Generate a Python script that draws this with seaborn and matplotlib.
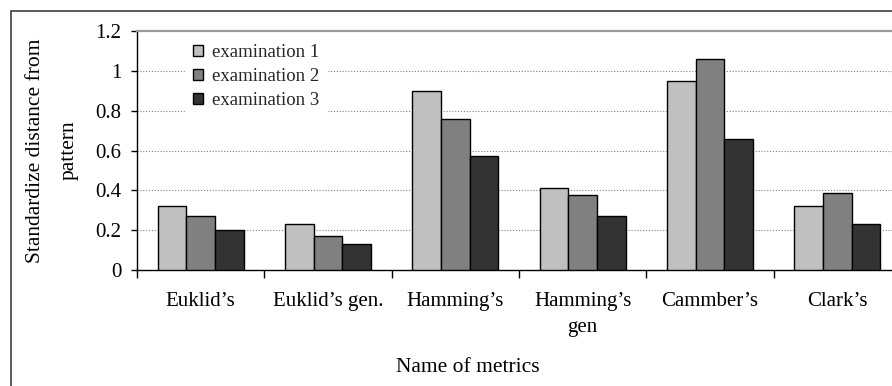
import matplotlib
matplotlib.use("Agg")
import matplotlib.pyplot as plt
from matplotlib.patches import Rectangle
from matplotlib.ticker import FixedLocator, NullFormatter
import seaborn as sns
import pandas as pd

# ---- data ----
metrics = ["Euklid\u2019s", "Euklid\u2019s gen.", "Hamming\u2019s", "Hamming\u2019s\ngen", "Cammber\u2019s", "Clark\u2019s"]
series_names = ["examination 1", "examination 2", "examination 3"]
exam1 = [0.32, 0.23, 0.90, 0.41, 0.95, 0.32]
exam2 = [0.27, 0.17, 0.76, 0.375, 1.06, 0.385]
exam3 = [0.20, 0.13, 0.57, 0.27, 0.66, 0.23]
y_ticks = [0, 0.2, 0.4, 0.6, 0.8, 1.0, 1.2]
y_tick_labels = ["0", "0.2", "0.4", "0.6", "0.8", "1", "1.2"]
colors = ["#c0c0c0", "#808080", "#333333"]

rows = []
for name, vals in zip(series_names, [exam1, exam2, exam3]):
    for m, v in zip(metrics, vals):
        rows.append({"metric": m, "value": v, "exam": name})
df = pd.DataFrame(rows)

sns.set_theme(style="white")
plt.rcParams["font.family"] = ["Liberation Serif", "DejaVu Serif"]

fig = plt.figure(figsize=(8.92, 3.86), dpi=100)
W, H = 892, 386
ax_left, ax_right, ax_top, ax_bottom = 137, 901, 31, 270
ax = fig.add_axes([ax_left / W, (H - ax_bottom) / H,
                   (ax_right - ax_left) / W, (ax_bottom - ax_top) / H])

sns.barplot(data=df, x="metric", y="value", hue="exam", order=metrics,
            hue_order=series_names, palette=colors, saturation=1,
            width=0.675, gap=0, edgecolor="black", linewidth=1.0,
            errorbar=None, ax=ax, zorder=3)

ax.set_xlim(-0.5, len(metrics) - 0.5)
ax.set_ylim(0, 1.2)
ax.set_yticks(y_ticks)
ax.set_yticklabels(y_tick_labels)

# grid
for yv in y_ticks[1:-1]:
    ax.axhline(yv, color="#808080", lw=0.8, ls=(0, (1, 1.6)), zorder=1)

# spines
for s in ["left", "bottom"]:
    ax.spines[s].set_color("black")
    ax.spines[s].set_linewidth(1.0)
ax.spines["top"].set_color("#9a9a9a")
ax.spines["top"].set_linewidth(1.6)
ax.spines["right"].set_visible(False)

# ticks
ax.tick_params(axis="y", which="major", direction="out", length=4.3, width=1.0,
               color="black", left=True, labelsize=15, pad=7, labelcolor="black")
ax.tick_params(axis="x", which="major", length=0, labelsize=15, pad=15.5, labelcolor="black")
ax.xaxis.set_minor_locator(FixedLocator([i + 0.5 for i in range(-1, len(metrics))]))
ax.xaxis.set_minor_formatter(NullFormatter())
ax.tick_params(axis="x", which="minor", direction="out", length=5.8, width=1.0,
               color="black", bottom=True)
for lbl in ax.get_xticklabels():
    lbl.set_linespacing(1.55)

# labels
ax.set_xlabel("Name of metrics", fontsize=15.5, color="black")
ax.xaxis.set_label_coords((468 - ax_left) / (ax_right - ax_left), -0.37)
ax.set_ylabel("Standardize distance from\npattern", fontsize=15.5, color="black",
              linespacing=2.05)
ax.yaxis.label.set_va("center")
ax.yaxis.set_label_coords((52.5 - ax_left) / (ax_right - ax_left), 0.5)

# legend
handles, labels = ax.get_legend_handles_labels()
if ax.get_legend() is not None:
    ax.get_legend().remove()
leg = ax.legend(handles, labels, loc="upper left",
                bbox_to_anchor=(0.063, 0.975), borderaxespad=0,
                fontsize=13.5, frameon=True, facecolor="white", edgecolor="white",
                framealpha=1, fancybox=False, borderpad=0.4,
                handlelength=0.55, handleheight=0.55, handletextpad=0.5,
                labelspacing=0.36)
leg.set_zorder(5)

# outer border of the chart
fig.patches.append(Rectangle((11 / W, -0.2), 1.2, (H - 11) / H + 0.2,
                             transform=fig.transFigure, fill=False,
                             edgecolor="#404040", linewidth=1.2, zorder=0))

fig.savefig("out.png", dpi=100)
